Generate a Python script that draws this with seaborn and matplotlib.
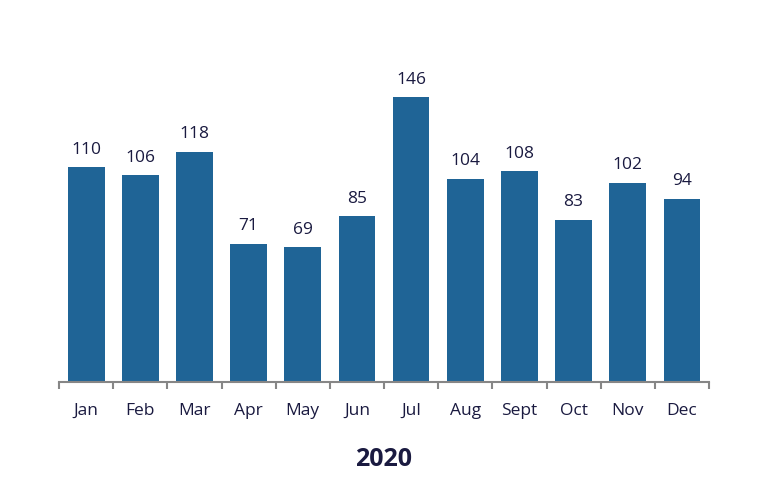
import pandas as pd
import seaborn as sns
import matplotlib.pyplot as plt

sns.set_theme(style="white")
plt.rcParams['font.family'] = ['Open Sans', 'DejaVu Sans']

months = ['Jan', 'Feb', 'Mar', 'Apr', 'May', 'Jun', 'Jul', 'Aug', 'Sept', 'Oct', 'Nov', 'Dec']
counts = [110, 106, 118, 71, 69, 85, 146, 104, 108, 83, 102, 94]
year = "2020"

df = pd.DataFrame({'Month': months, 'Count': counts})

bar_color = '#1F6496'
text_color = '#1A1A40'

fig = plt.figure(figsize=(7.72, 4.87), dpi=100)
ax = fig.add_axes([59 / 772, 105 / 487, 650 / 772, 312 / 487])

sns.barplot(data=df, x='Month', y='Count', color=bar_color, width=0.68,
            saturation=1, linewidth=0, ax=ax)

ax.set_ylim(0, 160)
ax.set_xlim(-0.5, len(months) - 0.5)

# value labels
for i, v in enumerate(counts):
    ax.annotate(str(v), (i, v), xytext=(0, 7), textcoords='offset points',
                ha='center', va='bottom', fontsize=12.5, color=text_color)

# axes styling
for s in ['top', 'right', 'left']:
    ax.spines[s].set_visible(False)
ax.spines['bottom'].set_color('#868686')
ax.spines['bottom'].set_linewidth(1.5)
ax.set_yticks([])
ax.set_xticks(range(len(months)))
ax.set_xticks([i - 0.5 for i in range(len(months) + 1)], minor=True)
ax.tick_params(axis='x', which='major', length=0, pad=15, labelsize=12.5,
               labelcolor=text_color)
ax.tick_params(axis='x', which='minor', length=5, width=1.5, color='#868686',
               direction='out', bottom=True)
ax.set_xlabel(year, fontsize=18, fontweight='bold', color=text_color, labelpad=20)
ax.set_ylabel('')

plt.savefig("out.png", dpi=100)
